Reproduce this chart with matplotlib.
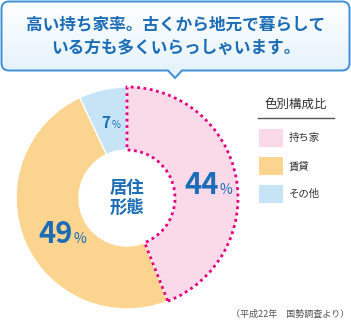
import matplotlib
matplotlib.use("Agg")
import matplotlib.pyplot as plt
import numpy as np
from matplotlib.patches import Rectangle, PathPatch
from matplotlib.path import Path
from matplotlib.colors import LinearSegmentedColormap

plt.rcParams['font.family'] = ['Noto Sans CJK JP', 'DejaVu Sans']

# データ
labels = ["持ち家", "賃貸", "その他"]
values = [44, 49, 7]
colors = ["#fad9e8", "#fbd590", "#c7e4f6"]
title_lines = "高い持ち家率。古くから地元で暮らして\nいる方も多くいらっしゃいます。"
center_label = "居住\n形態"
legend_title = "色別構成比"
source = "（平成22年　国勢調査より）"

blue = "#1b6db6"
W, H = 351, 322

fig = plt.figure(figsize=(W / 100, H / 100), dpi=100)
ax = fig.add_axes([0, 0, 1, 1])

def Y(y):
    return H - y

# 吹き出し
verts = [(9, Y(1.5)), (342, Y(1.5)), (349.5, Y(1.5)), (349.5, Y(9)),
         (349.5, Y(63)), (349.5, Y(70.5)), (342, Y(70.5)),
         (182, Y(70.5)), (175, Y(78)), (168, Y(70.5)),
         (9, Y(70.5)), (1.5, Y(70.5)), (1.5, Y(63)),
         (1.5, Y(9)), (1.5, Y(1.5)), (9, Y(1.5))]
codes = [Path.MOVETO, Path.LINETO, Path.CURVE3, Path.CURVE3,
         Path.LINETO, Path.CURVE3, Path.CURVE3,
         Path.LINETO, Path.LINETO, Path.LINETO,
         Path.LINETO, Path.CURVE3, Path.CURVE3,
         Path.LINETO, Path.CURVE3, Path.CURVE3]
bubble = PathPatch(Path(verts, codes), facecolor='none', edgecolor="#3d8fd6", lw=1.4, zorder=3)
ax.add_patch(bubble)
grad = np.linspace(0, 1, 100).reshape(-1, 1)
cmap = LinearSegmentedColormap.from_list("g", ["#e3f1fb", "#ffffff"])
im = ax.imshow(grad, extent=[0, W, Y(79), Y(0)], origin='lower', cmap=cmap, aspect='auto', zorder=1)
im.set_clip_path(bubble)
ax.text(175.5, Y(36), title_lines, ha='center', va='center', fontsize=12,
        fontweight='bold', color=blue, linespacing=1.4, zorder=4)

# ドーナツ
wedges, _ = ax.pie(values, colors=colors, startangle=90, counterclock=False,
                   center=(127, Y(198)), radius=111, frame=True,
                   wedgeprops=dict(width=63, edgecolor='white', linewidth=1))
wedges[0].set_edgecolor("#e4007f")
wedges[0].set_linestyle((0, (1, 1.3)))
wedges[0].set_linewidth(2)
wedges[0].set_zorder(3)
ax.set_xlim(0, W)
ax.set_ylim(0, H)
ax.set_aspect('equal')
ax.axis('off')

ax.text(127.5, Y(198), center_label, ha='center', va='center', fontsize=12.5,
        fontweight='bold', color=blue, linespacing=1.15)

def pct(x, y, num, big, small):
    ax.text(x, Y(y), num, ha='right', va='baseline', fontsize=big, color=blue, fontweight='bold')
    ax.text(x + 1, Y(y), "%", ha='left', va='baseline', fontsize=small, color=blue)

pct(219, 193.5, str(values[0]), 21, 10)
pct(73, 243, str(values[1]), 21, 10)
pct(110.5, 128, str(values[2]), 11, 7)

# 凡例
ax.text(296, Y(104), legend_title, ha='center', va='center', fontsize=9, color="#333333")
ax.plot([258, 334], [Y(118), Y(118)], color="#555555", lw=1)
for i, (lab, c) in enumerate(zip(labels, colors)):
    yc = 138 + i * 28
    ax.add_patch(Rectangle((259, Y(yc + 9)), 24, 18, facecolor=c, edgecolor='none'))
    ax.text(289, Y(yc), lab, ha='left', va='center', fontsize=7.5, color="#333333")

ax.text(349, Y(314), source, ha='right', va='center', fontsize=6.5, color="#555555")

fig.savefig("out.png", dpi=100)
